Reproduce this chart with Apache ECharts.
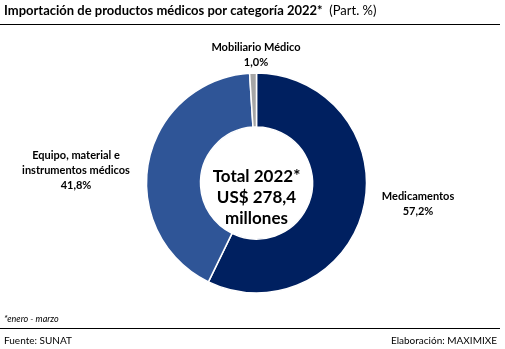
<!DOCTYPE html>
<html><head><meta charset="utf-8">
<script src="https://cdn.jsdelivr.net/npm/echarts@6/dist/echarts.min.js"></script>
<style>html,body{margin:0;padding:0;background:#fff}#c{width:505px;height:349px}</style>
</head><body><div id="c"></div>
<script>
var categories = ['Medicamentos', 'Equipo, material e\ninstrumentos médicos', 'Mobiliario Médico'];
var shares = [57.2, 41.8, 1.0];
var colors = ['#002060', '#2F5597', '#A6A6A6'];
var centerText = 'Total 2022*\nUS$ 278,4\nmillones';

var FONT = 'Lato';
var labelPos = [
  {x: 418, y: 204},
  {x: 76, y: 170},
  {x: 256, y: 55}
];
var chart = echarts.init(document.getElementById('c'), null, {renderer: 'canvas'});
chart.setOption({
  backgroundColor: '#fff',
  animation: false,
  graphic: [
    {type: 'text', left: 4, top: 4, style: {rich: {b: {fontFamily: FONT, fontWeight: 'bold', fontSize: 13, fill: '#000'}, n: {fontFamily: FONT, fontSize: 13, fill: '#000'}}, text: '{b|Importación de productos médicos por categoría 2022*}{n|  (Part. %)}'}},
    {type: 'line', shape: {x1: 0, y1: 24.5, x2: 500, y2: 24.5}, style: {stroke: '#000', lineWidth: 1}},
    {type: 'text', left: 4, top: 315, style: {text: '*enero - marzo', fontFamily: FONT, fontStyle: 'italic', fontSize: 9, fill: '#000'}},
    {type: 'line', shape: {x1: 0, y1: 328.5, x2: 500, y2: 328.5}, style: {stroke: '#000', lineWidth: 1}},
    {type: 'text', left: 4, top: 336, style: {text: 'Fuente: SUNAT', fontFamily: FONT, fontSize: 10, fill: '#000'}},
    {type: 'text', right: 8, top: 336, style: {text: 'Elaboración: MAXIMIXE', fontFamily: FONT, fontSize: 10, fill: '#000'}},
    {type: 'text', x: 256.5, y: 198, style: {text: centerText, fontFamily: FONT, fontWeight: 'bold', fontSize: 17, lineHeight: 21, fill: '#000', align: 'center', verticalAlign: 'middle'}}
  ],
  series: [{
    type: 'pie',
    center: [256.5, 183],
    radius: [56, 110],
    startAngle: 90,
    clockwise: true,
    avoidLabelOverlap: false,
    itemStyle: {borderColor: '#fff', borderWidth: 1.5},
    label: {
      show: true,
      position: 'outside',
      formatter: function (p) { return p.name + '\n' + p.value.toFixed(1).replace('.', ',') + '%'; },
      fontFamily: FONT, fontWeight: 'bold', fontSize: 11, lineHeight: 15, color: '#000', align: 'center'
    },
    labelLine: {show: false},
    labelLayout: function (p) {
      var pos = labelPos[p.dataIndex];
      return {x: pos.x, y: pos.y, align: 'center', verticalAlign: 'middle'};
    },
    data: categories.map(function (c, i) { return {name: c, value: shares[i], itemStyle: {color: colors[i]}}; })
  }]
});
</script></body></html>
